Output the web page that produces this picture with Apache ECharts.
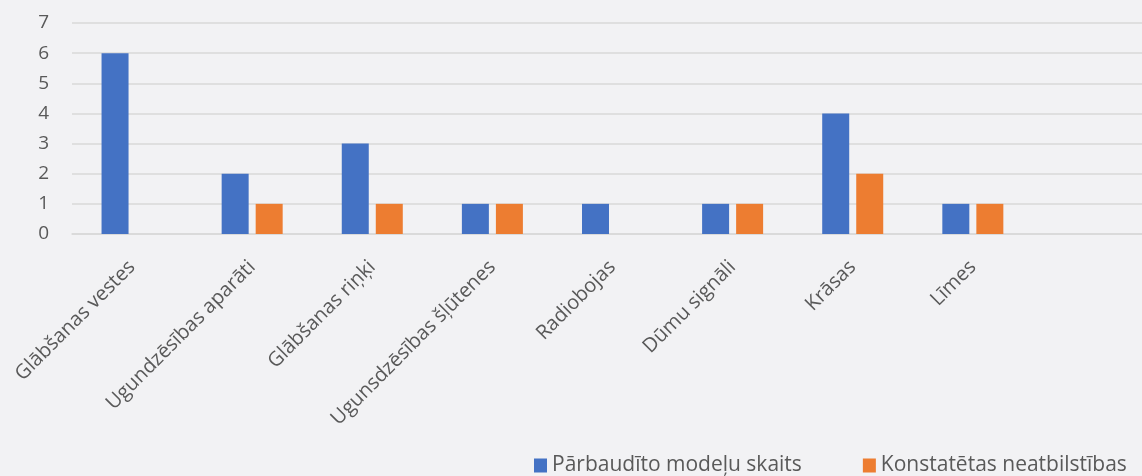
<!DOCTYPE html>
<html><head><meta charset="utf-8">
<script src="https://cdn.jsdelivr.net/npm/echarts@6/dist/echarts.min.js"></script>
<style>html,body{margin:0;padding:0;background:#F2F2F4;}#c{width:1142px;height:476px;}</style>
</head><body><div id="c"></div>
<script>
const categories = ['Glābšanas vestes','Ugundzēsības aparāti','Glābšanas riņķi','Ugunsdzēsības šļūtenes','Radiobojas','Dūmu signāli','Krāsas','Līmes',''];
const seriesNames = ['Pārbaudīto modeļu skaits','Konstatētas neatbilstības'];
const testedModels = [6,2,3,1,1,1,4,1,null];
const nonConformities = [null,1,1,1,null,1,2,1,null];
const yTicks = {min:0,max:7,interval:1};

const chart = echarts.init(document.getElementById('c'));
const font = '"Open Sans", sans-serif';
chart.setOption({
  backgroundColor:'#F2F2F4',
  animation:false,
  grid:{left:72,width:1081,top:23,height:211,containLabel:false,outerBoundsMode:'none'},
  legend:{
    data:seriesNames,top:450,left:529,itemWidth:13,itemHeight:14,itemGap:61,
    icon:'rect',
    textStyle:{fontFamily:font,fontSize:21,color:'#595959'}
  },
  xAxis:{
    type:'category',data:categories,
    axisLine:{show:true,lineStyle:{color:'#D9D9D9',width:1.5}},
    axisTick:{show:false},
    axisLabel:{rotate:45,interval:0,margin:30,fontFamily:font,fontSize:20,color:'#595959'}
  },
  yAxis:{
    type:'value',min:yTicks.min,max:yTicks.max,interval:yTicks.interval,
    axisLine:{show:false},axisTick:{show:false},
    splitLine:{lineStyle:{color:'#D9D9D9',width:1.5}},
    axisLabel:{margin:23,fontFamily:font,fontSize:19,color:'#595959'}
  },
  series:[
    {name:seriesNames[0],type:'bar',data:testedModels,barWidth:27,barGap:'26%',itemStyle:{color:'#4472C4'}},
    {name:seriesNames[1],type:'bar',data:nonConformities,barWidth:27,barGap:'26%',itemStyle:{color:'#ED7D31'}}
  ]
});
</script></body></html>
